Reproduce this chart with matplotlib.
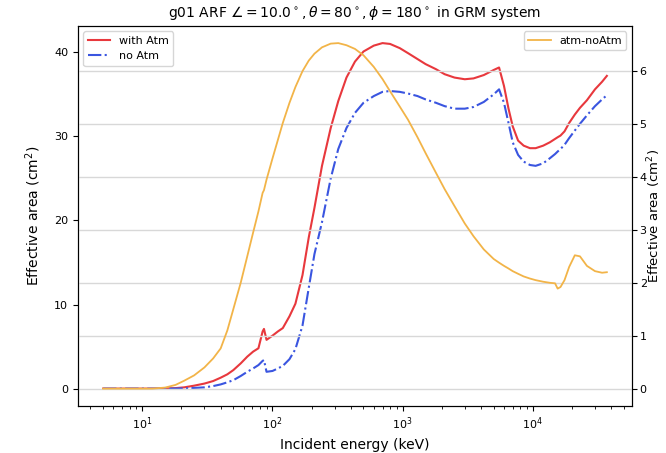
import numpy as np
import matplotlib
matplotlib.use('Agg')
import matplotlib.pyplot as plt

# energy grid (keV)
energy = [5, 8, 12, 15, 18, 21, 25, 30, 35, 40, 45, 50, 57, 64, 71, 78, 84, 86, 90,
          100, 110, 120, 135, 150, 170, 190, 210, 240, 280, 320, 370, 430, 500, 600,
          700, 800, 950, 1100, 1300, 1500, 1800, 2100, 2500, 3000, 3500, 4200, 5000,
          5500, 6000, 6500, 7000, 7700, 8500, 9500, 10500, 12000, 13500, 14800, 15500,
          16300, 17500, 19000, 21000, 23000, 26000, 30000, 34000, 37000]

# effective area with atmosphere (cm^2)
with_atm = [0, 0, 0, 0.02, 0.06, 0.15, 0.35, 0.6, 0.9, 1.3, 1.7, 2.2, 3.0, 3.8, 4.4, 4.8,
            6.8, 7.1, 5.8, 6.3, 6.8, 7.2, 8.6, 10.1, 13.5, 18.0, 21.5, 26.5, 31.0, 34.2,
            37.0, 38.9, 40.1, 40.8, 41.1, 41.0, 40.5, 39.9, 39.2, 38.6, 38.0, 37.4, 37.0,
            36.8, 36.9, 37.3, 37.9, 38.2, 36.0, 33.3, 31.2, 29.5, 28.9, 28.6, 28.6, 28.9,
            29.3, 29.7, 29.9, 30.1, 30.6, 31.6, 32.6, 33.4, 34.3, 35.6, 36.5, 37.2]

# effective area without atmosphere (cm^2)
no_atm = [0, 0, 0, 0, 0.01, 0.03, 0.08, 0.15, 0.3, 0.5, 0.75, 1.0, 1.5, 2.0, 2.4, 2.8,
          3.3, 3.4, 2.0, 2.1, 2.4, 2.7, 3.5, 4.7, 7.5, 12.0, 16.0, 19.8, 25.0, 28.5,
          31.0, 32.8, 34.0, 34.8, 35.3, 35.4, 35.3, 35.1, 34.8, 34.4, 34.0, 33.6, 33.3,
          33.3, 33.5, 34.1, 35.0, 35.6, 34.0, 31.6, 29.3, 27.8, 27.0, 26.6, 26.5, 26.8,
          27.4, 27.9, 28.2, 28.5, 29.0, 29.8, 30.7, 31.5, 32.5, 33.6, 34.4, 34.9]

# difference curve (right axis)
diff = [0, 0, 0, 0.02, 0.07, 0.15, 0.25, 0.4, 0.57, 0.76, 1.1, 1.5, 2.0, 2.5, 2.95, 3.35,
        3.7, 3.75, 3.95, 4.35, 4.7, 5.02, 5.4, 5.7, 6.0, 6.2, 6.33, 6.45, 6.52, 6.53,
        6.49, 6.42, 6.3, 6.08, 5.85, 5.62, 5.33, 5.08, 4.75, 4.45, 4.08, 3.77, 3.45,
        3.12, 2.88, 2.63, 2.45, 2.38, 2.32, 2.27, 2.22, 2.17, 2.12, 2.08, 2.05, 2.02,
        2.0, 1.99, 1.89, 1.92, 2.05, 2.3, 2.52, 2.5, 2.32, 2.22, 2.19, 2.2]

fig = plt.figure(figsize=(6.66, 4.53), dpi=100)
ax = fig.add_axes([0.117, 0.104, 0.832, 0.839])

ax.plot(energy, with_atm, color='#e8383d', lw=1.5, label='with Atm')
ax.plot(energy, no_atm, color='#3a55e0', lw=1.5, ls='-.', label='no Atm')
ax.set_xscale('log')
ax.set_xlabel('Incident energy (keV)', fontsize=10)
ax.set_ylabel('Effective area (cm$^2$)', fontsize=10, labelpad=8)
ax.tick_params(labelsize=8)
ax.legend(loc='upper left', fontsize=8)
ax.set_yticks([0, 10, 20, 30, 40])

ax2 = ax.twinx()
ax2.plot(energy, diff, color='#f2b448', lw=1.3, label='atm-noAtm')
ax2.set_ylabel('Effective area (cm$^2$)', fontsize=9.5, labelpad=-1)
ax2.tick_params(labelsize=8, pad=2)
ax2.yaxis.grid(True, color='#d8d8d8', lw=1)
ax2.legend(loc='upper right', fontsize=8)

ax.set_title(r'g01 ARF $\angle=10.0^\circ,\theta=80^\circ,\phi=180^\circ$ in GRM system',
             fontsize=10)

fig.savefig('out.png', dpi=100)
